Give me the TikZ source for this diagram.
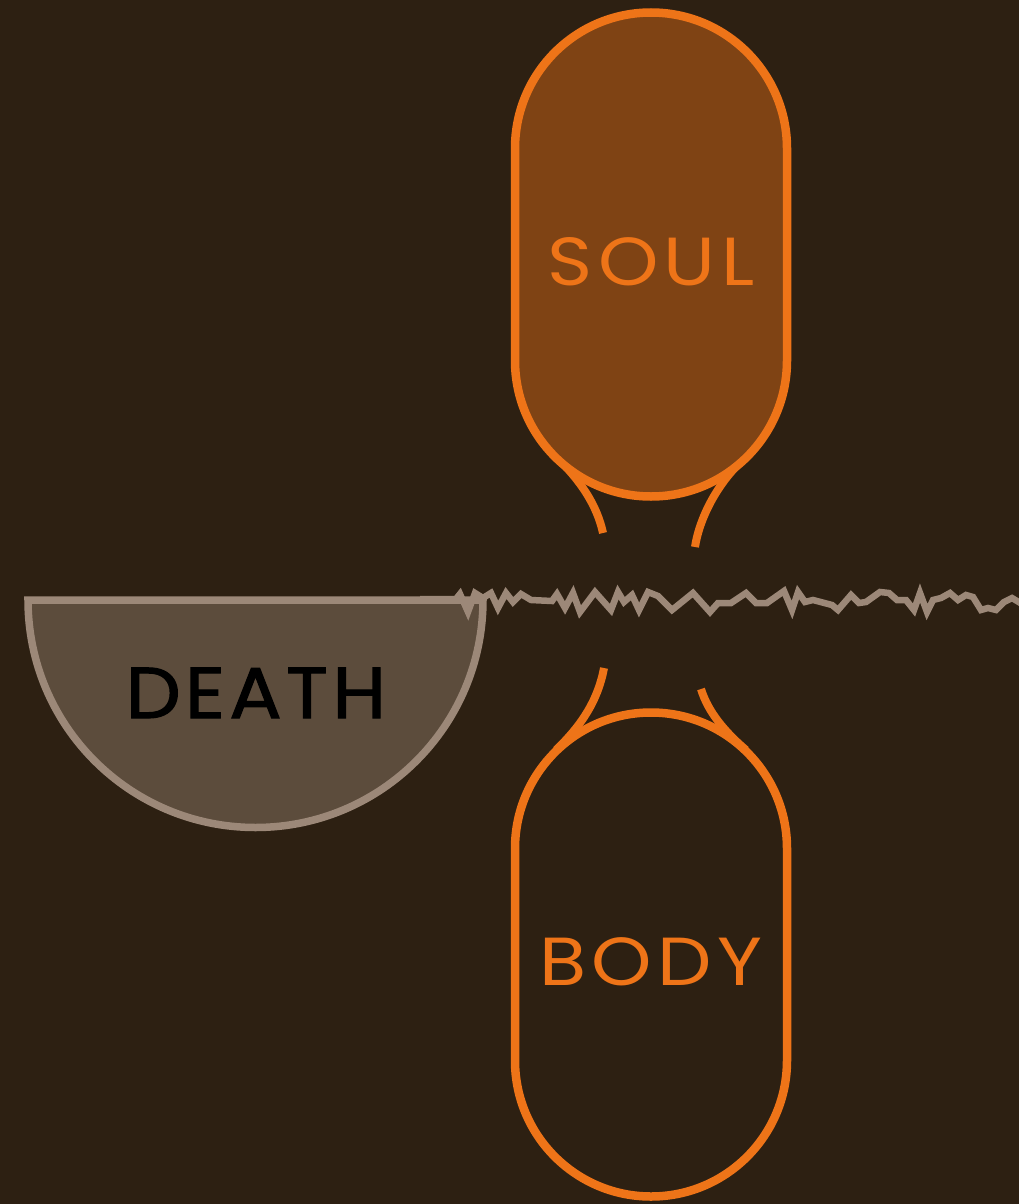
\documentclass[tikz,border=0pt]{standalone}
\usepackage{fontspec}
\setmainfont{Poppins}
\newfontfamily\capfont[LetterSpace=8, FakeStretch=1.13]{Poppins}
\newfontfamily\boldcapfont[LetterSpace=6, FakeStretch=1.08, FakeBold=1.6]{Poppins}
\definecolor{bg}{HTML}{2D2012}
\definecolor{orng}{HTML}{EE7418}
\definecolor{soulfill}{HTML}{7F4314}
\definecolor{deathfill}{HTML}{5C4C3C}
\definecolor{deathline}{HTML}{9C8878}
\begin{document}
\begin{tikzpicture}[x=1pt,y=-1pt,
  capsule/.style={draw=orng, line width=8.5pt, rounded corners=136pt, minimum width=272pt, minimum height=484pt, inner sep=0pt},
  tie/.style={draw=orng, line width=8pt},
  lbl/.style={font=\capfont\fontsize{68}{68}\selectfont, inner sep=0pt, anchor=base}]
\fill[bg] (0,0) rectangle (1019,1204);
\useasboundingbox (0,0) rectangle (1019,1204);
% death half disc
\coordinate (dl) at (28,600);
\coordinate (dr) at (483,600);
\filldraw[fill=deathfill, draw=deathline, line width=7.5pt] (dl) -- (dr) arc[start angle=0, end angle=180, radius=227.5] -- cycle;
\node[lbl, text=black, font=\boldcapfont\fontsize{72}{72}\selectfont] (death) at (256,718) {DEATH};
% ragged line
\draw[deathline, line width=6.5pt, line join=miter] (420,599) -- (456,599) -- (460,594) -- (468,612) -- (475,593) -- (483,598) -- (491,593) -- (498,608) -- (506,593) -- (513,602) -- (521,594) -- (531,600) -- (552,601) -- (557,594) -- (565,608) -- (573,593) -- (580,612) -- (595,592) -- (611,610) -- (618,592) -- (624,602) -- (632,595) -- (639,610) -- (648,592) -- (658,596) -- (672,610) -- (693,593) -- (710,612) -- (718,603) -- (731,603) -- (746,593) -- (756,603) -- (767,603) -- (784,591) -- (792,610) -- (798,592) -- (805,602) -- (813,600) -- (832,605) -- (838,610) -- (851,595) -- (859,603) -- (866,602) -- (880,592) -- (889,593) -- (897,600) -- (906,600) -- (914,610) -- (920,593) -- (927,612) -- (933,600) -- (941,598) -- (950,593) -- (958,600) -- (966,595) -- (973,597) -- (981,610) -- (988,608) -- (996,610) -- (1004,602) -- (1012,598) -- (1022,604);
% ties
\coordinate (stl) at (603,533);
\coordinate (str) at (695,547);
\coordinate (sbl) at (604,668);
\coordinate (sbr) at (701,689);
\draw[tie] (557,458) .. controls (580,480) and (597,505) .. (stl);
\draw[tie] (745,458) .. controls (720,480) and (700,515) .. (str);
\draw[tie] (sbl) .. controls (598,700) and (582,725) .. (556,750);
\draw[tie] (sbr) .. controls (708,712) and (725,732) .. (746,750);
% capsules
\node[capsule, fill=soulfill] (soul) at (651,254.5) {};
\node[capsule, fill=bg] (body) at (651,954.5) {};
\node[lbl, text=orng] (soultext) at (651,285) {SOUL};
\node[lbl, text=orng] (bodytext) at (651,985) {BODY};
\end{tikzpicture}
\end{document}
